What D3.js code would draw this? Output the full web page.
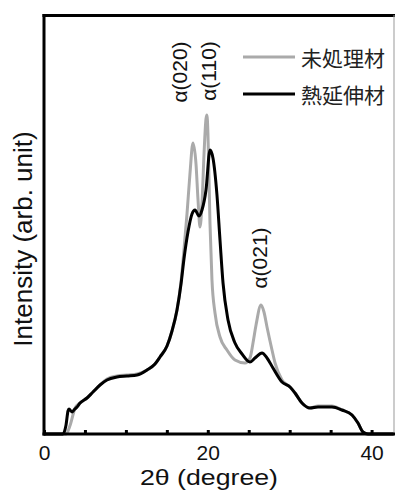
<!DOCTYPE html>
<html>
<head>
<meta charset="utf-8">
<script src="https://cdn.jsdelivr.net/npm/d3@7"></script>
<style>
  html, body { margin: 0; padding: 0; background: #fff; }
  svg { display: block; }
</style>
</head>
<body>
<svg id="chart" width="395" height="490"></svg>
<script>
// ---- data ----
const xTickValues = [0, 5, 10, 15, 20, 25, 30, 35, 40];
const xTickLabels = [0, 20, 40];

const seriesNames = ["未処理材", "熱延伸材"];

// 未処理材 (untreated, grey)
const untreatedTheta = [0, 2.7, 3.2, 3.8, 4.4, 5.25, 5.98, 6.84, 7.69, 8.91, 10.13, 11.36, 12.58, 13.55, 14.16, 15.02, 15.63, 16.24, 16.73, 17.09, 17.46, 17.82, 18.19, 18.56, 18.80, 19.05, 19.29, 19.54, 19.78, 19.90, 20.02, 20.27, 20.51, 20.88, 21.49, 22.34, 23.32, 24.54, 25.15, 25.52, 25.89, 26.50, 26.86, 27.23, 27.84, 28.21, 29.06, 30.04, 30.65, 31.50, 32.48, 33.46, 35.16, 36.39, 37.61, 38.34, 38.95, 39.56, 42.7];
const untreatedI     = [0, 0, 9, 26, 31, 36, 42, 49, 55, 58, 59, 60, 64, 70, 77, 88, 103, 124, 152, 184, 220, 260, 291, 270, 235, 207, 230, 280, 315, 319, 300, 210, 154, 121, 97, 84, 74, 71, 76, 91, 109, 129, 122, 107, 84, 71, 54, 47, 41, 31, 26, 28, 28, 24, 19, 11, 2, 0, 0];

// 熱延伸材 (hot-drawn, black)
const drawnTheta = [0, 2.32, 2.69, 2.93, 3.05, 3.42, 3.66, 4.03, 4.40, 5.25, 5.98, 6.84, 7.69, 8.91, 10.13, 11.36, 12.58, 13.55, 14.16, 15.02, 15.63, 16.24, 16.73, 17.09, 17.58, 18.07, 18.44, 18.93, 19.29, 19.78, 20.27, 20.63, 21.12, 21.49, 21.86, 22.47, 23.32, 24.18, 25.15, 25.76, 26.62, 27.23, 27.96, 29.06, 30.04, 30.65, 31.50, 32.48, 33.46, 35.16, 36.39, 37.61, 38.34, 38.95, 39.56, 42.7];
const drawnI     = [0, 0, 9, 23, 25, 22, 24, 27, 31, 36, 42, 49, 54, 57, 58, 59, 64, 70, 77, 88, 103, 124, 150, 175, 202, 220, 224, 218, 224, 244, 284, 276, 239, 194, 151, 114, 91, 80, 72, 76, 81, 76, 66, 52, 47, 41, 31, 26, 27, 27, 24, 19, 11, 2, 0, 0];

const peakLabels = ["α(020)", "α(110)", "α(021)"];
const peakTheta  = [16.9, 20.4, 26.6];
const peakLabelI = [362, 363, 176];

const seriesColors = ["#aaaaaa", "#000000"];

// ---- drawing ----
const svg = d3.select("#chart");
const x = d3.scaleLinear().domain([0, 42.7]).range([44, 393.7]);
const y = d3.scaleLinear().domain([0, 420]).range([434, 14]);

const line = d3.line()
  .x(d => x(d[0]))
  .y(d => y(d[1]))
  .curve(d3.curveMonotoneX);

const series = [
  untreatedTheta.map((t, i) => [t, untreatedI[i]]),
  drawnTheta.map((t, i) => [t, drawnI[i]])
];

const plot = svg.append("g");
series.forEach((s, i) => {
  plot.append("path")
    .datum(s)
    .attr("fill", "none")
    .attr("stroke", seriesColors[i])
    .attr("stroke-width", 3)
    .attr("stroke-linejoin", "round")
    .attr("d", line);
});

// frame: top and right
svg.append("line").attr("x1", 42.5).attr("x2", 395).attr("y1", 15.5).attr("y2", 15.5)
  .attr("stroke", "#000").attr("stroke-width", 3);
svg.append("line").attr("x1", 394).attr("x2", 394).attr("y1", 15).attr("y2", 435)
  .attr("stroke", "#999").attr("stroke-width", 1);

// left axis (no ticks)
svg.append("line").attr("x1", 44).attr("x2", 44).attr("y1", 14).attr("y2", 435.5)
  .attr("stroke", "#000").attr("stroke-width", 3);

// bottom axis
const xAxis = d3.axisBottom(x)
  .tickValues(xTickValues)
  .tickSizeInner(-4)
  .tickSizeOuter(0)
  .tickPadding(11)
  .tickFormat(d => xTickLabels.includes(d) ? d : "");
const gx = svg.append("g").attr("transform", "translate(0,434)").call(xAxis);
gx.select(".domain").attr("stroke-width", 3).attr("d", "M42.5,0H395");
gx.selectAll(".tick line").attr("stroke-width", 3);
gx.selectAll(".tick text")
  .attr("font-family", "'Liberation Sans', Arial, sans-serif")
  .attr("font-size", 21)
  .attr("fill", "#111");

// axis titles
svg.append("text")
  .attr("x", 140).attr("y", 485)
  .attr("textLength", 138)
  .attr("lengthAdjust", "spacingAndGlyphs")
  .attr("font-family", "'Liberation Sans', Arial, sans-serif")
  .attr("font-size", 22)
  .attr("fill", "#111")
  .text("2θ (degree)");

svg.append("text")
  .attr("transform", "translate(32,239) rotate(-90)")
  .attr("text-anchor", "middle")
  .attr("font-family", "'Liberation Sans', Arial, sans-serif")
  .attr("font-size", 26)
  .attr("fill", "#111")
  .text("Intensity (arb. unit)");

// peak labels
peakLabels.forEach((lab, i) => {
  svg.append("text")
    .attr("transform", `translate(${x(peakTheta[i]) + 5},${y(peakLabelI[i])}) rotate(-90)`)
    .attr("text-anchor", "middle")
    .attr("font-family", "'Liberation Sans', Arial, sans-serif")
    .attr("font-size", 21)
    .attr("fill", "#111")
    .text(lab);
});

// legend
const legend = svg.append("g");
seriesNames.forEach((name, i) => {
  const ly = 57 + i * 37;
  legend.append("line")
    .attr("x1", 243).attr("x2", 295).attr("y1", ly).attr("y2", ly)
    .attr("stroke", seriesColors[i]).attr("stroke-width", 3);
  legend.append("text")
    .attr("x", 301).attr("y", ly)
    .attr("dominant-baseline", "central")
    .attr("font-family", "'Noto Sans CJK JP', sans-serif")
    .attr("font-size", 21)
    .attr("fill", "#222")
    .text(name);
});
</script>
</body>
</html>
